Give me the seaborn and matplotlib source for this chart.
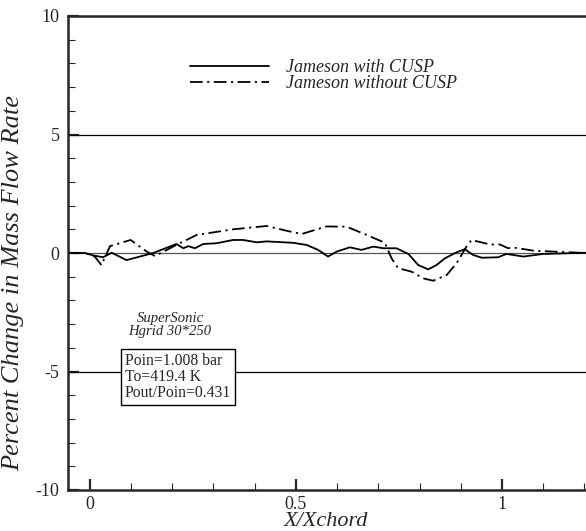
import matplotlib
matplotlib.use("Agg")
import matplotlib.pyplot as plt
import seaborn as sns
import pandas as pd
from matplotlib.ticker import MultipleLocator, FixedLocator
from matplotlib.lines import Line2D

# ---- data ----
x_cusp = [-0.049, -0.012, 0.008, 0.032, 0.053, 0.089, 0.154, 0.210, 0.227, 0.239,
          0.255, 0.275, 0.307, 0.348, 0.372, 0.405, 0.429, 0.493, 0.526, 0.554,
          0.578, 0.599, 0.631, 0.659, 0.688, 0.712, 0.744, 0.773, 0.797, 0.821,
          0.841, 0.862, 0.890, 0.910, 0.930, 0.951, 0.991, 1.011, 1.052, 1.100, 1.204]
y_cusp = [0.0, 0.0, -0.1, -0.18, 0.01, -0.3, 0.0, 0.38, 0.2, 0.29,
          0.2, 0.38, 0.41, 0.55, 0.55, 0.45, 0.49, 0.43, 0.34, 0.13,
          -0.15, 0.06, 0.24, 0.13, 0.27, 0.2, 0.2, -0.04, -0.51, -0.69,
          -0.51, -0.22, 0.03, 0.16, -0.08, -0.2, -0.18, -0.04, -0.15, -0.04, 0.01]
x_nocusp = [-0.049, -0.012, 0.012, 0.028, 0.049, 0.099, 0.138, 0.158, 0.210, 0.259,
            0.348, 0.429, 0.477, 0.514, 0.574, 0.623, 0.672, 0.716, 0.732, 0.748,
            0.781, 0.809, 0.833, 0.866, 0.890, 0.914, 0.926, 0.971, 0.995, 1.015,
            1.028, 1.076, 1.124, 1.204]
y_nocusp = [0.0, 0.0, -0.15, -0.51, 0.29, 0.55, 0.06, -0.13, 0.34, 0.76,
            1.0, 1.14, 0.94, 0.8, 1.12, 1.11, 0.76, 0.43, -0.22, -0.64,
            -0.79, -1.07, -1.17, -0.93, -0.43, 0.27, 0.55, 0.36, 0.36, 0.2,
            0.23, 0.1, 0.06, 0.0]
series_names = ["Jameson with CUSP", "Jameson without CUSP"]
y_ticks = [-10, -5, 0, 5, 10]
y_tick_labels = ["-10", "-5", "0", "5", "10"]
x_ticks = [0, 0.5, 1]
x_tick_labels = ["0", "0.5", "1"]
grid_levels = [-5, 0, 5]

df = pd.concat([
    pd.DataFrame({"x": x_cusp, "y": y_cusp, "series": series_names[0]}),
    pd.DataFrame({"x": x_nocusp, "y": y_nocusp, "series": series_names[1]}),
])

sns.set_style("ticks")
plt.rcParams["font.family"] = ["Liberation Serif", "DejaVu Serif"]
plt.rcParams["axes.unicode_minus"] = False

fig = plt.figure(figsize=(5.86, 5.31), dpi=100)
ax = fig.add_axes([68/586, 41/531, 1 - 68/586, (490-16)/531])

for g in grid_levels:
    ax.axhline(g, color="#555555" if g == 0 else "black", lw=0.9, zorder=1)

dd = (7, 2.5, 1.2, 2.5)
sns.lineplot(data=df, x="x", y="y", hue="series", style="series",
             palette=["black", "black"],
             dashes={series_names[0]: "", series_names[1]: dd},
             sort=False, estimator=None, lw=1.3, ax=ax, legend=False, zorder=3)

ax.set_xlim(-0.053, 1.204)
ax.set_ylim(-10, 10)
ax.xaxis.set_major_locator(FixedLocator(x_ticks))
ax.set_xticklabels(x_tick_labels)
ax.xaxis.set_minor_locator(MultipleLocator(0.1))
ax.yaxis.set_major_locator(FixedLocator(y_ticks))
ax.set_yticklabels(y_tick_labels)
ax.yaxis.set_minor_locator(MultipleLocator(1))
ax.tick_params(which="major", direction="in", length=8, width=1.6, labelsize=13, pad=6)
ax.tick_params(axis="x", which="major", pad=4)
ax.tick_params(which="minor", direction="in", length=5, width=0.8)
for s in ["left", "bottom", "top"]:
    ax.spines[s].set_linewidth(1.8)
ax.spines["right"].set_visible(False)

ax.set_xlabel("X/Xchord", fontsize=16, style="italic")
ax.set_ylabel("Percent Change in Mass Flow Rate", fontsize=19, style="italic")
ax.xaxis.set_label_coords((326 - 68) / 518, -(512 - 490) / 474)
ax.yaxis.set_label_coords(-(68 - 24) / 518, (490 - 283) / 474)

h1 = Line2D([], [], color="black", lw=1.3)
h2 = Line2D([], [], color="black", lw=1.3, dashes=dd)
ax.legend([h1, h2], series_names, loc="upper left",
          bbox_to_anchor=((190 - 68) / 518, (490 - 59) / 474), frameon=False,
          prop={"style": "italic", "size": 13}, handlelength=4.4,
          handletextpad=0.9, labelspacing=-0.05, borderpad=0, borderaxespad=0)

ax.text((170 - 68) / 518, (490 - 325) / 474, "SuperSonic\nHgrid 30*250",
        transform=ax.transAxes, ha="center", va="center", fontsize=10.5,
        style="italic", linespacing=1.0)
ax.text((125 - 68) / 518, (490 - 377) / 474, "Poin=1.008 bar\nTo=419.4 K\nPout/Poin=0.431",
        transform=ax.transAxes, ha="left", va="center", fontsize=11.3, linespacing=1.0,
        bbox=dict(boxstyle="square,pad=0.25", fc="white", ec="black", lw=1), zorder=5)

fig.savefig("out.png", dpi=100)
